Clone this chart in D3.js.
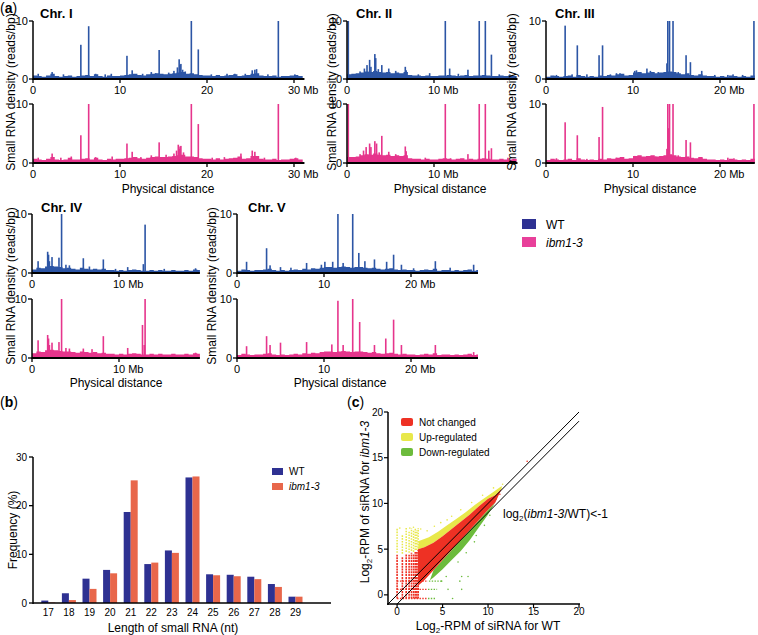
<!DOCTYPE html>
<html><head><meta charset="utf-8">
<script src="https://cdn.jsdelivr.net/npm/d3@7"></script>
<style>
body{margin:0;background:#fff;}
svg{font-family:"Liberation Sans",Arial,Helvetica,sans-serif;}
</style></head><body>
<svg id="c" width="758" height="635"></svg>
<script>
// ---------------- DATA ----------------
const chromNames = ["Chr. I","Chr. II","Chr. III","Chr. IV","Chr. V"];
const chromAxisEnd = [31.2, 19.6, 24.0, 19.3, 27.7];
const chromTicks = [[0,10,20,30],[0,10],[0,10,20],[0,10],[0,10,20]];
// baseline density, 0.5 Mb bins
const wtBase1 = [0.6,0.5,0.4,0.6,0.9,0.5,0.4,0.5,0.6,0.4,0.5,0.6,0.7,0.5,0.8,0.5,0.4,0.6,0.5,0.5,0.6,0.7,0.8,0.9,0.7,0.6,0.8,0.9,1.0,0.9,0.8,0.9,1.0,1.1,1.2,0.9,1.0,0.8,0.7,0.6,0.6,0.5,0.7,0.5,0.6,0.7,0.8,0.5,0.6,0.7,0.9,1.0,0.6,0.5,0.5,0.6,0.4,0.5,0.5,0.6,0.7,0.5];
const ibmBase1 = [0.7,0.6,0.5,0.7,1.0,0.6,0.5,0.6,0.9,0.6,0.6,0.7,0.8,0.6,0.9,0.6,0.5,0.7,0.6,0.7,0.7,0.8,0.9,1.0,0.8,0.7,0.9,1.0,1.1,1.0,1.0,1.1,1.2,1.3,1.4,1.1,1.1,1.0,0.8,0.7,0.7,0.6,0.8,0.6,0.7,0.8,0.9,1.1,0.7,0.8,1.2,1.2,0.7,0.6,0.6,0.7,0.5,0.6,0.6,0.7,0.8,0.6];
const wtBase2 = [0.8,0.9,1.0,1.1,1.3,1.2,1.4,1.2,1.1,1.2,1.0,1.1,1.0,1.2,0.7,0.6,0.6,0.5,0.6,0.5,0.5,0.6,0.6,0.7,0.6,0.5,0.6,0.7,0.5,0.6,0.6,0.7,0.6,0.5,0.5,0.6,0.5,0.6,0.5];
const ibmBase2 = [1.0,1.0,1.1,1.3,1.5,1.4,1.6,1.4,1.3,1.4,1.2,1.3,1.2,1.3,0.8,0.7,0.7,0.6,0.7,0.6,0.6,0.7,0.8,0.7,0.6,0.7,0.8,0.6,0.7,0.6,0.7,0.8,0.7,0.6,0.6,0.7,0.6,0.6,0.7];
const wtBase3 = [0.4,0.6,0.5,0.4,0.5,0.6,0.4,0.7,0.5,0.4,0.5,0.4,0.6,0.5,0.7,0.6,0.8,0.9,0.6,0.7,1.1,1.2,1.0,1.1,1.2,1.0,1.1,1.2,1.3,1.2,1.0,0.8,1.0,0.7,0.6,0.8,0.6,0.5,0.5,0.4,0.5,0.4,0.6,0.5,0.4,0.5,0.4,0.6];
const ibmBase3 = [0.5,0.7,0.6,0.5,0.6,0.7,0.5,0.8,0.6,0.5,0.6,0.5,0.7,0.6,0.8,0.7,0.9,1.0,0.7,0.8,1.2,1.3,1.1,1.2,1.3,1.1,1.2,1.3,1.5,1.3,1.1,1.0,1.1,0.9,0.8,1.0,0.7,0.6,0.6,0.5,0.6,0.5,0.7,0.6,0.5,0.6,0.5,0.7];
const wtBase4 = [0.6,0.9,0.8,1.1,1.2,1.1,1.0,0.8,0.9,0.7,0.6,0.9,0.7,0.6,0.7,0.6,0.7,0.5,0.5,0.4,0.5,0.4,0.5,0.6,0.5,0.4,0.4,0.5,0.4,0.5,0.4,0.4,0.5,0.4,0.4,0.5,0.4,0.6,0.5];
const ibmBase4 = [0.8,1.1,1.0,1.3,1.4,1.3,1.2,1.1,1.1,1.0,0.9,1.1,1.0,0.9,1.0,0.8,0.9,0.7,0.7,0.6,0.7,0.6,0.7,0.8,0.7,0.6,0.6,0.7,0.6,0.7,0.6,0.6,0.7,0.6,0.6,0.7,0.6,0.8,0.7];
const wtBase5 = [0.4,0.6,0.5,0.4,0.5,0.5,0.6,0.7,0.5,0.4,0.5,0.4,0.5,0.6,0.5,0.7,0.6,0.8,0.7,0.9,1.0,1.0,0.9,1.0,1.1,1.0,0.9,1.0,1.0,0.9,0.8,0.9,0.7,0.6,0.7,0.8,0.6,0.5,0.6,0.5,0.5,0.4,0.5,0.6,0.5,0.7,0.4,0.5,0.5,0.4,0.5,0.4,0.5,0.6,0.4,0.5];
const ibmBase5 = [0.5,0.7,0.6,0.5,0.6,0.6,0.7,0.8,0.6,0.5,0.6,0.5,0.6,0.7,0.6,0.8,0.7,0.9,0.8,1.0,1.1,1.1,1.0,1.1,1.2,1.1,1.0,1.1,1.1,1.0,0.9,1.0,0.8,0.7,0.8,0.9,0.7,0.6,0.7,0.6,0.6,0.5,0.6,0.7,0.6,0.8,0.5,0.6,0.6,0.5,0.6,0.5,0.6,0.7,0.5,0.6];
// peaks [Mb, reads/bp]
const wtPeaks1 = [[0.6,0.9],[2.2,1.2],[3.5,0.8],[5.5,5.9],[6.4,9.1],[7.2,0.9],[8.3,0.8],[9.0,0.9],[10.8,4.0],[11.4,1.5],[12.6,0.9],[13.6,1.2],[14.1,1.0],[14.5,5.0],[15.6,1.1],[16.2,1.4],[16.6,2.0],[16.8,3.4],[16.9,2.4],[17.0,2.6],[17.2,1.6],[17.5,1.3],[18.2,10],[19.0,5.1],[20.5,0.8],[22.3,0.9],[23.2,0.9],[24.4,0.9],[25.2,1.5],[25.5,1.6],[25.7,1.7],[27.0,0.8],[28.2,10],[30.1,0.8]];
const ibmPeaks1 = [[0.6,0.9],[2.2,1.6],[3.2,0.9],[4.4,1.1],[5.5,4.7],[6.4,10],[7.2,1.0],[9.1,1.1],[10.8,3.3],[11.4,1.9],[12.4,1.0],[13.6,1.3],[14.5,3.5],[15.3,1.4],[16.2,1.6],[16.5,2.1],[16.7,3.1],[16.8,2.4],[16.9,2.8],[17.0,2.9],[17.3,1.8],[18.2,10],[19.0,6.6],[20.6,0.9],[22.0,1.0],[23.9,1.6],[25.2,2.1],[25.5,1.9],[26.6,0.9],[28.2,10],[30.2,0.9]];
const wtPeaks2 = [[0.15,10],[1.5,1.3],[2.0,1.8],[2.3,2.4],[2.6,3.3],[2.75,2.1],[3.2,4.3],[3.3,3.6],[3.6,1.7],[4.0,2.4],[4.8,1.8],[5.6,1.4],[6.7,2.1],[6.8,1.5],[8.2,0.8],[9.5,1.0],[11.3,10],[11.8,1.8],[12.8,0.9],[13.9,1.6],[15.2,10],[15.9,10],[16.6,4.2],[17.5,0.8],[18.7,0.8]];
const ibmPeaks2 = [[0.15,10],[1.5,1.5],[1.9,2.1],[2.2,2.7],[2.6,3.3],[2.75,2.7],[3.2,3.7],[3.4,3.3],[3.7,1.8],[4.0,4.6],[4.8,1.9],[5.6,1.5],[6.7,2.8],[6.8,2.0],[9.0,0.9],[11.3,10],[11.9,0.8],[13.9,1.5],[15.2,10],[15.9,10],[16.3,2.1],[16.6,2.5],[18.5,0.9]];
const wtPeaks3 = [[1.2,0.7],[2.2,9.2],[3.0,0.8],[3.6,5.8],[4.7,0.8],[6.1,4.1],[6.5,5.8],[7.4,0.8],[8.1,1.0],[8.5,1.0],[10.2,1.4],[10.4,1.5],[11.6,1.8],[12.0,1.4],[12.9,1.2],[13.9,2.7],[14.0,10],[14.2,10],[14.6,10],[15.2,1.2],[16.1,4.1],[16.6,2.9],[17.9,1.4],[19.4,0.7],[20.9,0.7],[21.5,0.8],[22.6,0.7],[23.9,10]];
const ibmPeaks3 = [[1.2,0.8],[2.2,6.9],[3.6,4.7],[4.7,0.7],[6.1,4.4],[6.5,9.5],[8.1,0.9],[8.5,0.9],[10.2,1.2],[11.6,0.9],[12.6,1.1],[13.9,2.4],[14.0,10],[14.1,5.9],[14.2,10],[14.6,10],[15.2,1.3],[16.1,3.9],[16.6,3.5],[17.9,0.9],[20.9,0.9],[21.6,0.8],[23.9,10]];
const wtPeaks4 = [[0.7,2.0],[1.8,3.6],[1.9,3.1],[2.0,2.0],[2.3,2.7],[3.1,2.6],[3.4,10],[3.9,1.4],[4.3,1.3],[5.9,2.5],[6.6,1.1],[8.2,2.3],[9.6,0.7],[11.0,1.0],[12.8,1.5],[13.0,8.2],[15.2,0.7],[18.8,0.8]];
const ibmPeaks4 = [[0.7,3.0],[1.8,3.9],[1.9,3.3],[2.0,2.2],[2.3,2.6],[3.1,2.7],[3.4,10],[3.9,1.7],[4.3,1.6],[5.9,1.6],[6.9,1.5],[8.2,3.7],[11.0,1.7],[12.7,5.6],[12.9,2.2],[13.0,10],[18.8,0.9]];
const wtPeaks5 = [[1.1,1.9],[3.4,4.2],[3.8,1.3],[5.0,1.0],[6.2,0.9],[8.0,1.7],[9.7,1.4],[10.1,1.9],[11.0,1.9],[11.6,10],[12.2,1.7],[13.3,10],[14.0,3.4],[14.7,2.0],[15.8,2.3],[17.2,1.9],[18.0,3.1],[18.9,1.4],[20.3,0.8],[22.8,2.0],[24.5,0.9],[27.2,1.4]];
const ibmPeaks5 = [[1.1,2.0],[3.4,3.7],[3.8,2.2],[5.0,2.6],[8.0,2.7],[10.9,2.3],[11.6,9.7],[12.2,2.2],[13.3,10],[14.1,6.1],[15.8,2.2],[17.1,3.3],[18.0,6.5],[18.9,2.2],[22.8,2.2],[27.2,1.0]];
const wtBases = [wtBase1,wtBase2,wtBase3,wtBase4,wtBase5];
const ibmBases = [ibmBase1,ibmBase2,ibmBase3,ibmBase4,ibmBase5];
const wtPeaks = [wtPeaks1,wtPeaks2,wtPeaks3,wtPeaks4,wtPeaks5];
const ibmPeaks = [ibmPeaks1,ibmPeaks2,ibmPeaks3,ibmPeaks4,ibmPeaks5];

// (b)
const lengthsNt = ["17","18","19","20","21","22","23","24","25","26","27","28","29"];
const wtFreq = [0.5,2.0,5.0,6.8,18.7,8.0,10.8,25.8,5.9,5.8,5.4,3.9,1.3];
const ibmFreq = [0.1,0.6,2.9,6.1,25.2,8.3,10.3,26.0,5.7,5.5,4.9,3.3,1.3];
const freqTicks = [0,10,20,30];

// (c)
const scatTicks = [0,5,10,15,20];
const upTop = [[2.4,5.9],[3.5,6.3],[4.5,6.9],[5.5,7.6],[6.5,8.3],[7.5,9.0],[8.5,9.8],[9.5,10.5],[10.5,11.2],[11.5,11.9]];
const ncTop = [[2.3,5.0],[3,5.2],[4,5.7],[5,6.4],[6,7.2],[7,8.0],[8,8.8],[9,9.7],[10,10.5],[10.8,10.9],[11.5,11.6]];
const ncBottom = [[2.3,1.0],[3,1.6],[4,2.7],[5,3.8],[6,4.9],[7,6.0],[8,7.1],[9,8.2],[10,9.3],[10.8,10.1]];
const downBottom = [[3.6,1.6],[4,1.9],[5,2.8],[6,3.8],[7,4.8],[8,6.0],[9,7.4],[10,8.8],[10.8,10.1]];
const lowColX = [0,0.58,1,1.32,1.58,1.81,2,2.17,2.32];
const lowColNC = [[-0.4,4.4],[-0.4,4.2],[-0.4,4.5],[-0.4,4.4],[-0.4,4.6],[-0.4,4.5],[-0.4,4.7],[-0.4,4.7],[-0.4,4.9]];
const lowColUp = [[4.6,7.3],[4.5,6.6],[4.7,7.3],[4.6,6.9],[4.8,7.3],[4.7,7.0],[4.9,7.3],[4.9,7.1],[5.1,7.3]];
const lowRowY = [-0.4,0.6,1.5];
const lowRowNC = [[0,3.3],[0,3.3],[0,3.4]];
const lowRowDown = [[3.4,4.3],[3.4,4.4],[3.5,5.0]];
const upPts = [[0.3,7.3],[1.4,7.3],[1.8,7.4],[2.6,7.2],[3.3,7.0],[4.1,7.5],[4.8,7.9],[5.5,8.2],[6.0,8.6],[7.0,9.3],[8.2,10.1],[9.4,10.9],[10.6,11.7],[11.6,12.1]];
const downPts = [[6.1,-0.4],[5.6,0.6],[7.1,0.6],[4.9,1.5],[6.9,1.5],[5.4,2.0],[7.1,2.0],[7.8,2.0],[8.5,5.8],[8.7,6.5],[7.6,4.6],[6.7,3.6],[9.6,7.6],[10.2,8.7]];
const ncPts = [[14.3,14.6],[10.9,10.5],[11.3,11.0]];
const refLineOffsets = [0,-1];

// ---------------- DRAW ----------------
const svg = d3.select("#c");
const WT_C = "#2c55a5", IBM_C = "#e6358c";
const PX = 8.7;

function panelLabel(x,y,letter){
  const t = svg.append("text").attr("x",x).attr("y",y).attr("font-size",14);
  t.append("tspan").text("(");
  t.append("tspan").attr("font-weight","bold").text(letter);
  t.append("tspan").text(")");
}
panelLabel(0,13,"a");
panelLabel(0,407,"b");
panelLabel(347,407,"c");

const layout = [
 {x0:33,row:0,titleX:40,ylabX:11,pdX:168},
 {x0:347,row:0,titleX:356,ylabX:332,pdX:440},
 {x0:546,row:0,titleX:555,ylabX:512,pdX:650},
 {x0:32,row:1,titleX:41,ylabX:11,pdX:116},
 {x0:237,row:1,titleX:248,ylabX:212,pdX:340}
];
const rows = [
 {tracks:[[79,21],[163,104]],titleY:18,pdY:193},
 {tracks:[[273,214],[358,299]],titleY:212,pdY:387}
];

function drawTrack(x, y, base, peaks, color){
  const g = svg.append("g");
  const bw = 0.5;
  const area = d3.area().curve(d3.curveStepAfter).x(d=>x(d[0])).y0(y(0)).y1(d=>y(d[1]));
  const pts = base.map((v,i)=>[i*bw,v]);
  pts.push([Math.min(base.length*bw, x.domain()[1]), base[base.length-1]]);
  g.append("path").attr("d",area(pts)).attr("fill",color);
  g.selectAll("rect.pk").data(peaks).enter().append("rect")
    .attr("x",d=>x(d[0])-0.8).attr("width",1.6)
    .attr("y",d=>y(Math.min(d[1],10))).attr("height",d=>y(0)-y(Math.min(d[1],10)))
    .attr("fill",color);
}

chromNames.forEach((name,ci)=>{
  const L = layout[ci], R = rows[L.row];
  const end = chromAxisEnd[ci];
  const x = d3.scaleLinear().domain([0,end]).range([L.x0, L.x0+end*PX]);
  [0,1].forEach(k=>{
    const [y0,y10] = R.tracks[k];
    const y = d3.scaleLinear().domain([0,10]).range([y0,y10]);
    drawTrack(x,y,k===0?wtBases[ci]:ibmBases[ci],k===0?wtPeaks[ci]:ibmPeaks[ci],k===0?WT_C:IBM_C);
    svg.append("line").attr("x1",L.x0).attr("x2",L.x0).attr("y1",y10).attr("y2",y0+1).attr("stroke","#000").attr("stroke-width",1.5);
    [0,10].forEach(t=>{
      svg.append("line").attr("x1",L.x0-4).attr("x2",L.x0).attr("y1",y(t)).attr("y2",y(t)).attr("stroke","#000").attr("stroke-width",1.3);
      svg.append("text").attr("x",L.x0-5).attr("y",y(t)+4).attr("text-anchor","end").attr("font-size",11).text(t);
    });
    svg.append("line").attr("x1",L.x0).attr("x2",x(end)).attr("y1",y0).attr("y2",y0).attr("stroke","#000").attr("stroke-width",2);
    const tk = chromTicks[ci];
    tk.forEach((t,ti)=>{
      svg.append("line").attr("x1",x(t)).attr("x2",x(t)).attr("y1",y0).attr("y2",y0+4).attr("stroke","#000").attr("stroke-width",1.3);
      const last = ti===tk.length-1 && t>0;
      const s = String(t);
      const hw = s.length*3.06;
      svg.append("text").attr("x",last? x(t)-hw : x(t)).attr("y",y0+15)
        .attr("text-anchor",last?"start":"middle").attr("font-size",11).text(last? s+" Mb" : s);
    });
  });
  svg.append("text").attr("x",L.titleX).attr("y",R.titleY).attr("font-size",13).attr("font-weight","bold").text(name);
  const yc = (R.tracks[0][1]+R.tracks[1][0])/2;
  svg.append("text").attr("transform",`translate(${L.ylabX},${yc}) rotate(-90)`).attr("text-anchor","middle")
    .attr("dy","0.35em").attr("font-size",12).text("Small RNA density (reads/bp)");
  svg.append("text").attr("x",L.pdX).attr("y",R.pdY).attr("text-anchor","middle").attr("font-size",12).text("Physical distance");
});

// legend (a)
svg.append("rect").attr("x",522).attr("y",219).attr("width",14).attr("height",10).attr("fill","#2e3192");
svg.append("text").attr("x",546).attr("y",228.5).attr("font-size",12).text("WT");
svg.append("rect").attr("x",522).attr("y",237).attr("width",14).attr("height",10).attr("fill","#e8409a");
svg.append("text").attr("x",546).attr("y",246.5).attr("font-size",12).attr("font-style","italic").text("ibm1-3");

// ---------------- (b) ----------------
{
  const step = 20.6;
  const xb = d3.scaleBand().domain(lengthsNt).range([38, 38+13*step]).padding(0);
  const yb = d3.scaleLinear().domain([0,30]).range([603,457]);
  const g = svg.append("g");
  const bw = 7;
  g.selectAll("rect.wt").data(lengthsNt).enter().append("rect")
    .attr("x",(d,i)=>xb(d)+xb.bandwidth()/2-bw).attr("width",bw)
    .attr("y",(d,i)=>yb(wtFreq[i])).attr("height",(d,i)=>yb(0)-yb(wtFreq[i])).attr("fill","#2e3192");
  g.selectAll("rect.ibm").data(lengthsNt).enter().append("rect")
    .attr("x",(d,i)=>xb(d)+xb.bandwidth()/2).attr("width",bw)
    .attr("y",(d,i)=>yb(ibmFreq[i])).attr("height",(d,i)=>yb(0)-yb(ibmFreq[i])).attr("fill","#e8674b");
  svg.append("line").attr("x1",33).attr("x2",33).attr("y1",457).attr("y2",604).attr("stroke","#000").attr("stroke-width",1.5);
  svg.append("line").attr("x1",33).attr("x2",331).attr("y1",603).attr("y2",603).attr("stroke","#000").attr("stroke-width",1.5);
  freqTicks.forEach(t=>{
    svg.append("line").attr("x1",29).attr("x2",33).attr("y1",yb(t)).attr("y2",yb(t)).attr("stroke","#000").attr("stroke-width",1.3);
    svg.append("text").attr("x",27).attr("y",yb(t)+3.5).attr("text-anchor","end").attr("font-size",10).text(t);
  });
  lengthsNt.forEach(d=>{
    svg.append("text").attr("x",xb(d)+xb.bandwidth()/2).attr("y",616).attr("text-anchor","middle").attr("font-size",10).text(d);
  });
  svg.append("text").attr("x",173).attr("y",632).attr("text-anchor","middle").attr("font-size",12).text("Length of small RNA (nt)");
  svg.append("text").attr("transform","translate(13,530) rotate(-90)").attr("text-anchor","middle").attr("dy","0.35em").attr("font-size",12).text("Frequency (%)");
  svg.append("rect").attr("x",272).attr("y",468).attr("width",11).attr("height",7).attr("fill","#2e3192");
  svg.append("text").attr("x",289).attr("y",475).attr("font-size",10).text("WT");
  svg.append("rect").attr("x",272).attr("y",483).attr("width",11).attr("height",7).attr("fill","#e8674b");
  svg.append("text").attr("x",289).attr("y",490).attr("font-size",10).attr("font-style","italic").text("ibm1-3");
}

// ---------------- (c) ----------------
{
  const xs = d3.scaleLinear().domain([-1,20]).range([388,579]);
  const ys = d3.scaleLinear().domain([-1,20]).range([604,412]);
  const RED="#ee3124", YEL="#e8e84a", GRN="#6cbb3c";
  const g = svg.append("g");
  const line = d3.line().x(d=>xs(d[0])).y(d=>ys(d[1]));
  g.append("path").attr("d",line(upTop.concat(ncTop.slice().reverse()))+"Z").attr("fill",YEL);
  g.append("path").attr("d",line(ncBottom.filter(d=>d[0]>=3.3).concat(downBottom.slice().reverse()))+"Z").attr("fill",GRN);
  g.append("path").attr("d",line(ncTop.concat(ncBottom.slice().reverse()))+"Z").attr("fill",RED);
  lowColX.forEach((cx,i)=>{
    g.append("line").attr("x1",xs(cx)).attr("x2",xs(cx)).attr("y1",ys(lowColNC[i][0])).attr("y2",ys(lowColNC[i][1]))
      .attr("stroke",RED).attr("stroke-width",1.6).attr("stroke-dasharray","2,0.8");
    g.append("line").attr("x1",xs(cx)).attr("x2",xs(cx)).attr("y1",ys(lowColUp[i][0])).attr("y2",ys(lowColUp[i][1]))
      .attr("stroke",YEL).attr("stroke-width",1.5).attr("stroke-dasharray","1.6,1.2");
  });
  lowRowY.forEach((ry,i)=>{
    g.append("line").attr("x1",xs(lowRowNC[i][0])).attr("x2",xs(lowRowNC[i][1])).attr("y1",ys(ry)).attr("y2",ys(ry))
      .attr("stroke",RED).attr("stroke-width",1.4).attr("stroke-dasharray","1.4,1.4");
    g.append("line").attr("x1",xs(lowRowDown[i][0])).attr("x2",xs(lowRowDown[i][1])).attr("y1",ys(ry)).attr("y2",ys(ry))
      .attr("stroke",GRN).attr("stroke-width",1.4).attr("stroke-dasharray","1.4,1.4");
  });
  const dots = (arr,col)=>g.selectAll(null).data(arr).enter().append("circle")
    .attr("cx",d=>xs(d[0])).attr("cy",d=>ys(d[1])).attr("r",0.8).attr("fill",col);
  dots(upPts,YEL); dots(downPts,GRN); dots(ncPts,RED);
  refLineOffsets.forEach(o=>{
    const x1 = Math.max(-1,-1-o);
    g.append("line").attr("x1",xs(x1)).attr("y1",ys(x1+o)).attr("x2",xs(20)).attr("y2",ys(20+o))
      .attr("stroke","#000").attr("stroke-width",1);
  });
  svg.append("line").attr("x1",388).attr("x2",388).attr("y1",412).attr("y2",605).attr("stroke","#000").attr("stroke-width",1.5);
  svg.append("line").attr("x1",387).attr("x2",580).attr("y1",604).attr("y2",604).attr("stroke","#000").attr("stroke-width",1.5);
  scatTicks.forEach(t=>{
    svg.append("line").attr("x1",384).attr("x2",388).attr("y1",ys(t)).attr("y2",ys(t)).attr("stroke","#000").attr("stroke-width",1.2);
    svg.append("text").attr("x",383).attr("y",ys(t)+3.5).attr("text-anchor","end").attr("font-size",10).text(t);
    svg.append("line").attr("x1",xs(t)).attr("x2",xs(t)).attr("y1",604).attr("y2",608).attr("stroke","#000").attr("stroke-width",1.2);
    svg.append("text").attr("x",xs(t)).attr("y",615).attr("text-anchor","middle").attr("font-size",10).text(t);
  });
  const xl = svg.append("text").attr("x",488).attr("y",630).attr("text-anchor","middle").attr("font-size",12);
  xl.append("tspan").text("Log");
  xl.append("tspan").attr("font-size",8).attr("dy",3).text("2");
  xl.append("tspan").attr("dy",-3).text("-RPM of siRNA for WT");
  const yl = svg.append("text").attr("transform","translate(369,502) rotate(-90)").attr("text-anchor","middle").attr("font-size",12);
  yl.append("tspan").text("Log");
  yl.append("tspan").attr("font-size",8).attr("dy",3).text("2");
  yl.append("tspan").attr("dy",-3).text("-RPM of siRNA for ");
  yl.append("tspan").attr("font-style","italic").text("ibm1-3");
  const an = svg.append("text").attr("x",503).attr("y",518).attr("font-size",12);
  an.append("tspan").text("log");
  an.append("tspan").attr("font-size",8).attr("dy",3).text("2");
  an.append("tspan").attr("dy",-3).text("(");
  an.append("tspan").attr("font-style","italic").text("ibm1-3");
  an.append("tspan").text("/WT)<-1");
  const leg = [["Not changed",RED],["Up-regulated",YEL],["Down-regulated",GRN]];
  leg.forEach((l,i)=>{
    svg.append("rect").attr("x",401).attr("y",418+i*15).attr("width",12).attr("height",8).attr("rx",2).attr("fill",l[1]);
    svg.append("text").attr("x",419).attr("y",425.5+i*15).attr("font-size",10).text(l[0]);
  });
}
</script></body></html>
